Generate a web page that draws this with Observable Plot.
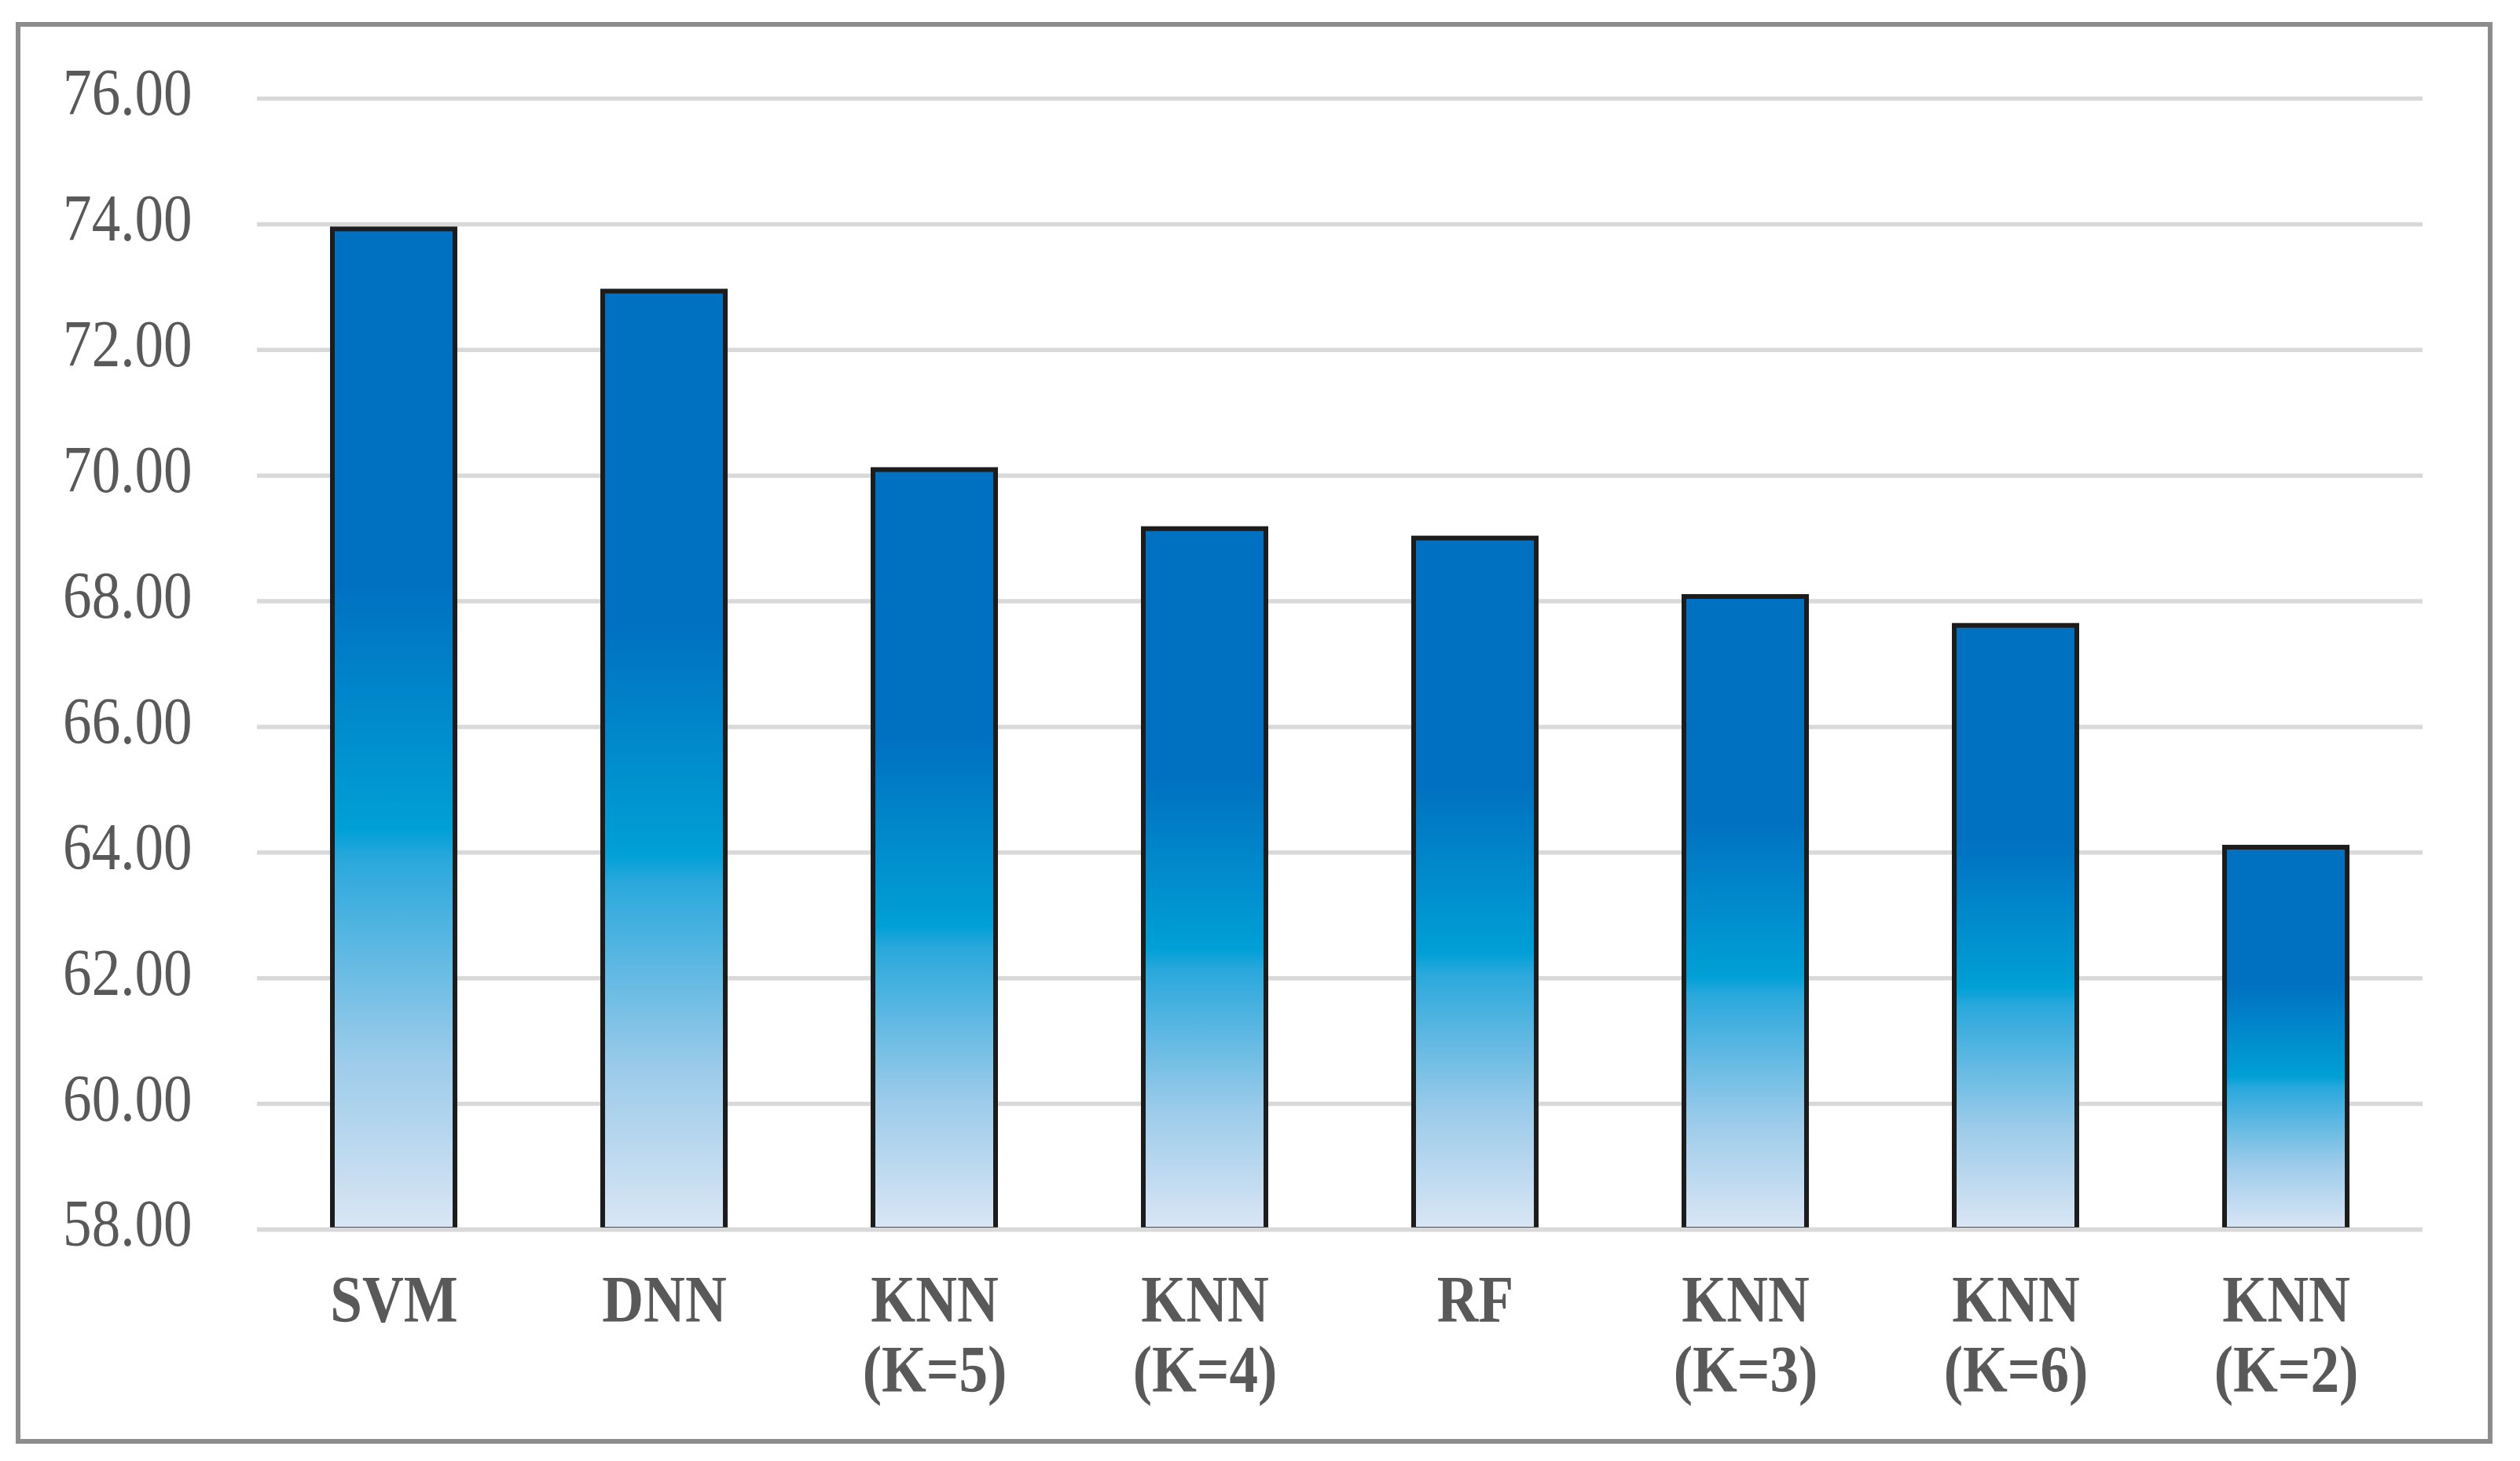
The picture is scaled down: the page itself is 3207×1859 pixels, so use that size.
<!DOCTYPE html>
<html>
<head>
<meta charset="utf-8">
<script src="https://cdn.jsdelivr.net/npm/d3@7"></script>
<script src="https://cdn.jsdelivr.net/npm/@observablehq/plot@0.6"></script>
<style>
  html, body { margin: 0; padding: 0; background: #ffffff; }
  #wrap { position: relative; width: 3207px; height: 1859px; overflow: hidden; }
  #frame { position: absolute; left: 20px; top: 28px; width: 3152px; height: 1809px;
           box-sizing: border-box; border: 6px solid #8c8c8c; pointer-events: none; }
</style>
</head>
<body>
<div id="wrap"><div id="frame"></div></div>
<script>
// ---- data ----
const categories = ["SVM", "DNN", "KNN (K=5)", "KNN (K=4)", "RF", "KNN (K=3)", "KNN (K=6)", "KNN (K=2)"];
const tickLabels = ["SVM", "DNN", "KNN\n(K=5)", "KNN\n(K=4)", "RF", "KNN\n(K=3)", "KNN\n(K=6)", "KNN\n(K=2)"];
const values = [73.92, 72.93, 70.09, 69.15, 69.00, 68.07, 67.61, 64.08];
const yTicks = [58, 60, 62, 64, 66, 68, 70, 72, 74, 76];
const baseline = 58;

const data = categories.map((c, i) => ({category: c, value: values[i]}));
const labelOf = new Map(categories.map((c, i) => [c, tickLabels[i]]));

const chart = Plot.plot({
  width: 3207,
  height: 1859,
  marginLeft: 327,
  marginRight: 124,
  marginTop: 125,
  marginBottom: 295,
  style: {fontFamily: "'Liberation Serif', 'Times New Roman', serif", background: "transparent"},
  x: {domain: categories, paddingInner: 0.547, paddingOuter: 0.2735, label: null},
  y: {domain: [58, 76], label: null},
  marks: [
    Plot.ruleY(yTicks, {stroke: "#d9d9d9", strokeWidth: 5.5}),
    Plot.barY(data, {x: "category", y1: baseline, y2: "value",
      fill: "url(#barGrad)", stroke: "#1c1c1c", strokeWidth: 6}),
    Plot.ruleY([baseline], {stroke: "#d9d9d9", strokeWidth: 5.5}),
    Plot.axisY({ticks: yTicks, tickFormat: d3.format(".2f"), tickSize: 0, tickPadding: 83,
      fontSize: 84, color: "#595959", dy: -6, label: null}),
    Plot.axisX({tickFormat: d => labelOf.get(d), tickSize: 0, tickPadding: 54,
      fontSize: 84, fontWeight: "bold", color: "#595959", lineHeight: 1.06, label: null})
  ]
});

const defs = `<defs>
  <linearGradient id="barGrad" x1="0" y1="0" x2="0" y2="1">
    <stop offset="0" stop-color="#0070c0"/>
    <stop offset="0.35" stop-color="#0070c0"/>
    <stop offset="0.6" stop-color="#00a0d6"/>
    <stop offset="0.63" stop-color="#2aa8dc"/>
    <stop offset="0.83" stop-color="#9ccbea"/>
    <stop offset="1" stop-color="#dae6f4"/>
  </linearGradient>
</defs>`;
chart.insertAdjacentHTML("afterbegin", defs);

const wrap = document.getElementById("wrap");
wrap.insertBefore(chart, wrap.firstChild);

// condense tick labels horizontally like the reference
const squeeze = 0.87;
chart.querySelectorAll('g[aria-label$="tick label"] text').forEach(t => {
  const spans = t.querySelectorAll("tspan");
  const targets = spans.length ? Array.from(spans) : [t];
  targets.forEach(el => {
    const len = el.getComputedTextLength();
    if (len > 0) {
      el.setAttribute("textLength", (len * squeeze).toFixed(1));
      el.setAttribute("lengthAdjust", "spacingAndGlyphs");
    }
  });
});
</script>
</body>
</html>
